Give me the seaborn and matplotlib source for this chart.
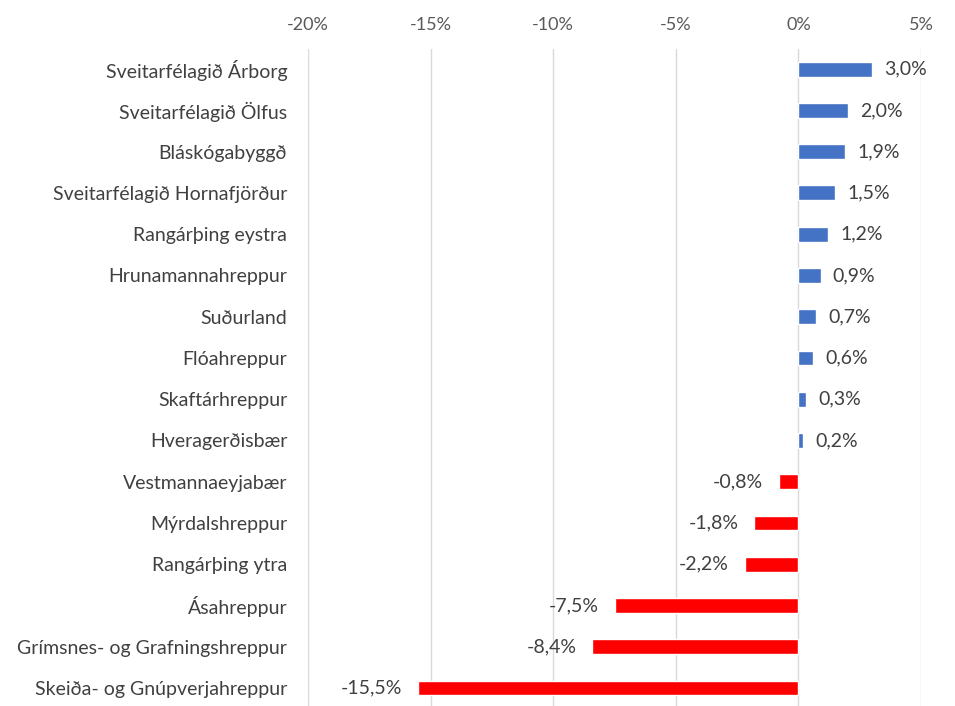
import matplotlib
matplotlib.use("Agg")
import matplotlib.pyplot as plt
import pandas as pd
import seaborn as sns

regions = ["Sveitarfélagið Árborg", "Sveitarfélagið Ölfus", "Bláskógabyggð",
           "Sveitarfélagið Hornafjörður", "Rangárþing eystra", "Hrunamannahreppur",
           "Suðurland", "Flóahreppur", "Skaftárhreppur", "Hveragerðisbær",
           "Vestmannaeyjabær", "Mýrdalshreppur", "Rangárþing ytra", "Ásahreppur",
           "Grímsnes- og Grafningshreppur", "Skeiða- og Gnúpverjahreppur"]
change = [3.0, 2.0, 1.9, 1.5, 1.2, 0.9, 0.7, 0.6, 0.3, 0.2,
          -0.8, -1.8, -2.2, -7.5, -8.4, -15.5]
ticks = [-20, -15, -10, -5, 0, 5]

df = pd.DataFrame({"region": regions, "change": change})
df["sign"] = ["pos" if v >= 0 else "neg" for v in change]

sns.set_style("white")
plt.rcParams["font.family"] = ["Lato", "DejaVu Sans"]

fig = plt.figure(figsize=(9.55, 7.06), dpi=100)
ax = fig.add_axes([0.3225, -0.0037, 0.642, 0.935])

sns.barplot(data=df, x="change", y="region", hue="sign",
            palette={"pos": "#4472c4", "neg": "#ff0000"},
            width=0.36, dodge=False, legend=False, ax=ax, saturation=1)

ax.set_xlim(-20, 5)
ax.set_ylim(15.5, -0.5)
ax.set_xticks(ticks)
ax.set_xticklabels([f"{t}%" for t in ticks])
ax.xaxis.tick_top()
ax.tick_params(axis="x", length=0, labelsize=13, colors="#595959", pad=11)
ax.tick_params(axis="y", length=0, labelsize=14, colors="#404040", pad=15)
ax.set_xlabel("")
ax.set_ylabel("")
ax.grid(axis="x", color="#d9d9d9", linewidth=1)
ax.set_axisbelow(True)
for s in ax.spines.values():
    s.set_visible(False)

# value labels: right of positive bars, left of negative bars
for i, v in enumerate(change):
    lbl = f"{v:.1f}%".replace(".", ",")
    if v >= 0:
        ax.text(v + 0.5, i, lbl, va="center", ha="left", fontsize=14, color="#404040")
    else:
        ax.text(v - 0.65, i, lbl, va="center", ha="right", fontsize=14, color="#404040")

fig.savefig("out.png", dpi=100)
